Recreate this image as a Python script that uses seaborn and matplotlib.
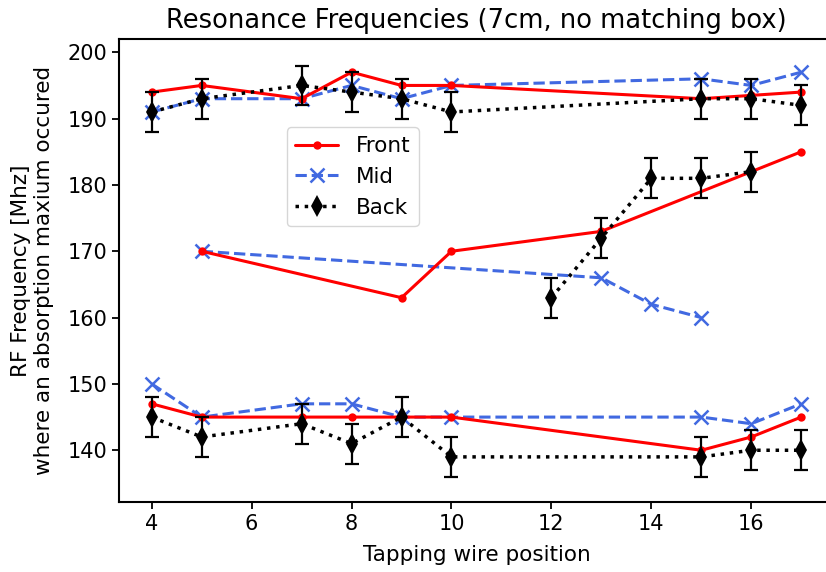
import matplotlib
matplotlib.use("Agg")
import matplotlib.pyplot as plt
import seaborn as sns
import pandas as pd
import numpy as np
from matplotlib.lines import Line2D

# ---- data ----
# Front (red, solid, dots)
front_top_x = [4, 5, 7, 8, 9, 10, 15, 16, 17]
front_top_y = [194, 195, 193, 197, 195, 195, 193, 193.5, 194]
front_mid_x = [5, 9, 10, 13, 16, 17]
front_mid_y = [170, 163, 170, 173, 182, 185]
front_bot_x = [4, 5, 7, 8, 9, 10, 15, 16, 17]
front_bot_y = [147, 145, 145, 145, 145, 145, 140, 142, 145]

# Mid (blue, dashed, x)
mid_top_x = [4, 5, 7, 8, 9, 10, 15, 16, 17]
mid_top_y = [191, 193, 193, 195, 193, 195, 196, 195, 197]
mid_mid_x = [5, 13, 14, 15]
mid_mid_y = [170, 166, 162, 160]
mid_bot_x = [4, 5, 7, 8, 9, 10, 15, 16, 17]
mid_bot_y = [150, 145, 147, 147, 145, 145, 145, 144, 147]

# Back (black, dotted, diamonds, error bars)
back_top_x = [4, 5, 7, 8, 9, 10, 15, 16, 17]
back_top_y = [191, 193, 195, 194, 193, 191, 193, 193, 192]
back_mid_x = [12, 13, 14, 15, 16]
back_mid_y = [163, 172, 181, 181, 182]
back_bot_x = [4, 5, 7, 8, 9, 10, 15, 16, 17]
back_bot_y = [145, 142, 144, 141, 145, 139, 139, 140, 140]
back_err = 3

series_labels = ["Front", "Mid", "Back"]


def make_df(parts):
    rows = []
    for i, (xs, ys) in enumerate(parts):
        for xv, yv in zip(xs, ys):
            rows.append({"x": xv, "y": yv, "band": i})
    return pd.DataFrame(rows)


df_front = make_df([(front_top_x, front_top_y), (front_mid_x, front_mid_y), (front_bot_x, front_bot_y)])
df_mid = make_df([(mid_top_x, mid_top_y), (mid_mid_x, mid_mid_y), (mid_bot_x, mid_bot_y)])
df_back = make_df([(back_top_x, back_top_y), (back_mid_x, back_mid_y), (back_bot_x, back_bot_y)])

sns.set_style("ticks")
plt.rcParams["font.family"] = ["DejaVu Sans"]
plt.rcParams["text.color"] = "black"
plt.rcParams["axes.labelcolor"] = "black"

fig = plt.figure(figsize=(8.26, 5.72), dpi=100)
ax = fig.add_axes([0.1444, 0.1224, 0.8649, 0.8094])

blue = "#4169E1"
lw = 2.2
front_kw = dict(color="red", marker="o", markersize=6, markeredgewidth=0, linewidth=lw)
mid_kw = dict(color=blue, marker="x", markersize=10, markeredgewidth=1.8, markeredgecolor=blue,
              linewidth=lw, linestyle=(0, (3.7, 1.6)))
back_kw = dict(color="black", marker="d", markersize=11, markeredgewidth=0, linewidth=2.5,
               linestyle=(0, (1, 1.65)))

sns.lineplot(data=df_front, x="x", y="y", units="band", estimator=None, sort=False,
             ax=ax, legend=False, zorder=3, **front_kw)
sns.lineplot(data=df_mid, x="x", y="y", units="band", estimator=None, sort=False,
             ax=ax, legend=False, zorder=2, **mid_kw)
sns.lineplot(data=df_back, x="x", y="y", units="band", estimator=None, sort=False,
             ax=ax, legend=False, zorder=4, **back_kw)
ax.errorbar(df_back["x"], df_back["y"], yerr=back_err, fmt="none", ecolor="black",
            elinewidth=1.6, capsize=5, capthick=1.6, zorder=4)

ax.set_xlim(3.35, 17.65)
ax.set_ylim(132.2, 202.0)
ax.set_xticks([4, 6, 8, 10, 12, 14, 16])
ax.set_yticks([140, 150, 160, 170, 180, 190, 200])
ax.tick_params(axis="both", labelsize=15, length=5, width=1.3, colors="black")
for s in ax.spines.values():
    s.set_linewidth(1.5)
    s.set_color("black")

ax.set_title("Resonance Frequencies (7cm, no matching box)", fontsize=18.5, pad=8)
ax.set_xlabel("Tapping wire position", fontsize=15.5, labelpad=8)
ax.set_ylabel("RF Frequency [Mhz]\nwhere an absorption maxium occured", fontsize=15.5, labelpad=10)

handles = [Line2D([], [], **front_kw), Line2D([], [], **mid_kw), Line2D([], [], **back_kw)]
ax.legend(handles, series_labels, loc="upper left", bbox_to_anchor=(0.2343, 0.809),
          borderaxespad=0, fontsize=15.5, frameon=True, fancybox=True, framealpha=0.8,
          edgecolor="#cccccc")

fig.savefig("out.png", dpi=100)
